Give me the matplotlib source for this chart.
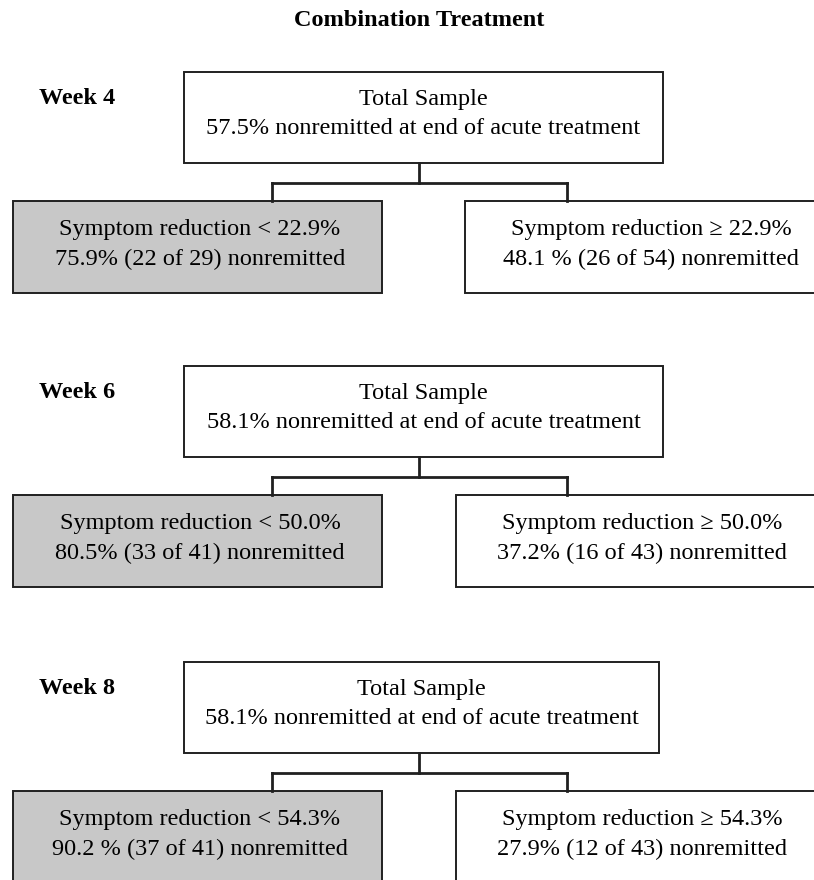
import matplotlib.pyplot as plt
from matplotlib.patches import Rectangle

plt.rcParams['font.family'] = ['Liberation Serif', 'DejaVu Serif']

# data
weeks = ['Week 4', 'Week 6', 'Week 8']
total_pct = [57.5, 58.1, 58.1]
cutoffs = ['22.9', '50.0', '54.3']
low_text = ['75.9%', '80.5%', '90.2 %']
low_n = [(22, 29), (33, 41), (37, 41)]
high_text = ['48.1 %', '37.2%', '27.9%']
high_n = [(26, 54), (16, 43), (12, 43)]

W, H = 814, 880
fig = plt.figure(figsize=(W / 100, H / 100), dpi=100)
ax = fig.add_axes([0, 0, 1, 1])
ax.set_xlim(0, W)
ax.set_ylim(H, 0)
ax.axis('off')

fs = 17.5
ec = '#202020'
lw = 1.4

ax.text(419, 21, 'Combination Treatment', fontsize=17.5, fontweight='bold',
        ha='center', va='center')

# layout per panel: top y, right box left edge
tops = [72, 366, 662]
right_x = [465, 456, 456]
top_w = [479, 479, 475]

for i in range(len(weeks)):
    y0 = tops[i]
    ax.text(39, y0 + 27, weeks[i], fontsize=17.5, fontweight='bold',
            ha='left', va='center')
    # top box
    ax.add_patch(Rectangle((184, y0), top_w[i], 91, facecolor='white',
                           edgecolor=ec, lw=lw))
    cx = 184 + top_w[i] / 2
    ax.text(cx, y0 + 27, 'Total Sample', fontsize=fs, ha='center', va='center')
    ax.text(cx, y0 + 56, f'{total_pct[i]}% nonremitted at end of acute treatment',
            fontsize=fs, ha='center', va='center')
    # connectors
    yb = y0 + 91
    ym = yb + 20
    yc = yb + 38
    ax.plot([419, 419], [yb, ym], color=ec, lw=2)
    ax.plot([272, 567], [ym, ym], color=ec, lw=2)
    ax.plot([272, 272], [ym, yc], color=ec, lw=2)
    ax.plot([567, 567], [ym, yc], color=ec, lw=2)
    # child boxes
    ax.add_patch(Rectangle((13, yc), 369, 92, facecolor='#c8c8c8',
                           edgecolor=ec, lw=lw))
    ax.add_patch(Rectangle((right_x[i], yc), 400, 92, facecolor='white',
                           edgecolor=ec, lw=lw))
    lx = 200
    ax.text(lx, yc + 29, f'Symptom reduction < {cutoffs[i]}%', fontsize=fs,
            ha='center', va='center')
    ax.text(lx, yc + 58, f'{low_text[i]} ({low_n[i][0]} of {low_n[i][1]}) nonremitted',
            fontsize=fs, ha='center', va='center')
    rx = right_x[i] + 186
    ax.text(rx, yc + 29, f'Symptom reduction \u2265 {cutoffs[i]}%', fontsize=fs,
            ha='center', va='center')
    ax.text(rx, yc + 58, f'{high_text[i]} ({high_n[i][0]} of {high_n[i][1]}) nonremitted',
            fontsize=fs, ha='center', va='center')

fig.savefig('out.png', dpi=100)
